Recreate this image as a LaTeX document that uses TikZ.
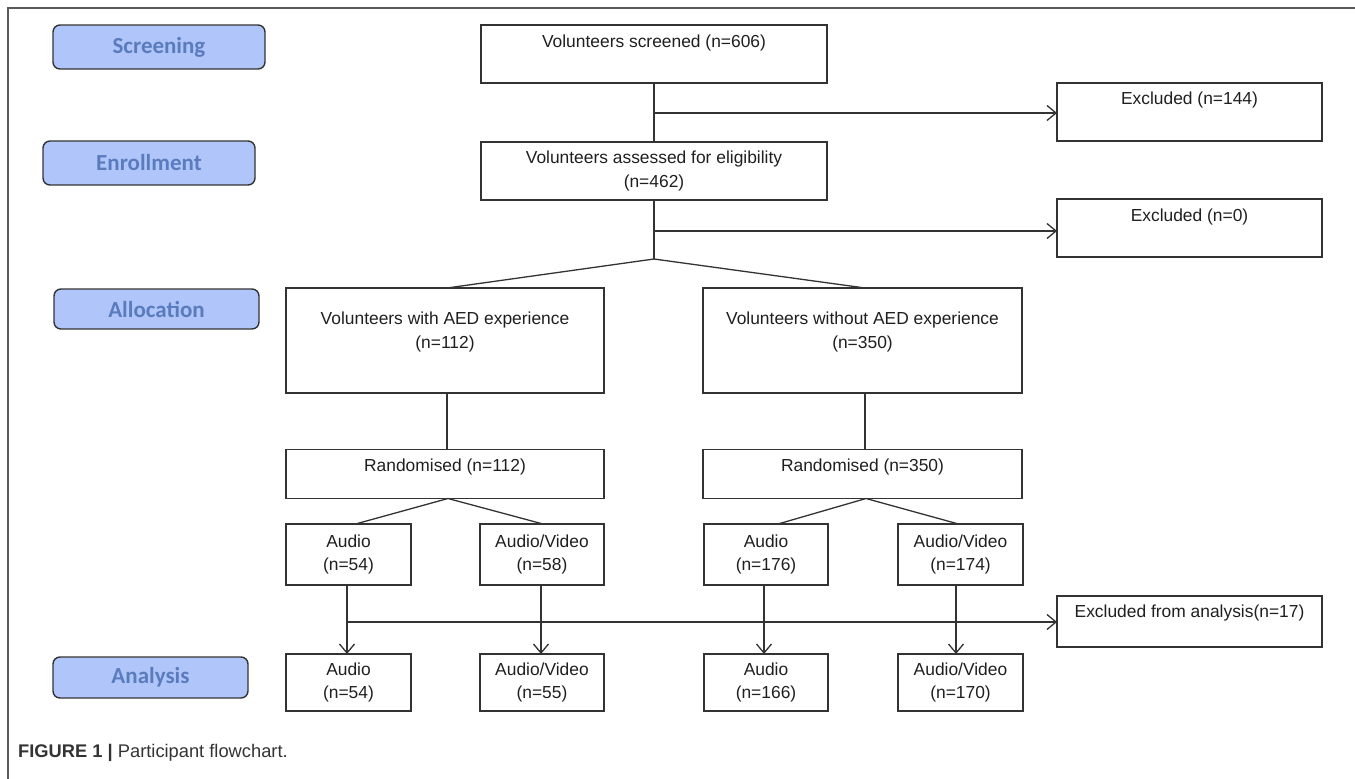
\documentclass[tikz,border=0pt]{standalone}
\usepackage{fontspec}
\setmainfont{Liberation Sans}
\newfontfamily\labfont{Carlito}
\usetikzlibrary{arrows.meta,calc}
\definecolor{lblfill}{RGB}{176,198,250}
\definecolor{lbltext}{RGB}{90,124,190}
\definecolor{ink}{RGB}{51,51,51}
\definecolor{frame}{RGB}{90,90,90}
\begin{document}
\begin{tikzpicture}[x=1pt,y=-1pt,
  box/.style={draw=ink,line width=1.5pt,inner sep=0pt,outer sep=0pt},
  txt/.style={font=\fontsize{17.4}{23.5}\selectfont,text=black!88,align=center,inner sep=0pt},
  stage/.style={draw=ink,line width=1.4pt,fill=lblfill,rounded corners=7pt,inner sep=0pt,
    font=\labfont\bfseries\fontsize{23}{26}\selectfont,text=lbltext},
  conn/.style={draw=ink,line width=1.3pt},
  arr/.style={conn,-{Straight Barb[length=9pt,width=15pt]}}]
\useasboundingbox (0,0) rectangle (1355,779);
\draw[frame,line width=1.5pt] (8,779) -- (8,8) -- (1355,8);

% stage labels
\node[stage,minimum width=212pt,minimum height=44pt] (sScr) at (159,47) {Screening};
\node[stage,minimum width=212pt,minimum height=44pt] (sEnr) at (149,163) {Enrollment};
\node[stage,minimum width=205pt,minimum height=40pt] (sAll) at (156.5,309) {Allocation};
\node[stage,minimum width=195pt,minimum height=41pt] (sAna) at (150.5,677.5) {Analysis};

% boxes
\node[box,minimum width=346pt,minimum height=58pt] (scr) at (654,54) {};
\node[txt] (scrT) at (654,43) {Volunteers screened (n=606)};
\node[box,minimum width=265pt,minimum height=58pt] (ex1) at (1189.5,112) {};
\node[txt] (ex1T) at (1189.5,100) {Excluded (n=144)};
\node[box,minimum width=346pt,minimum height=58pt] (elig) at (654,171) {};
\node[txt] (eligT) at (654,171) {Volunteers assessed for eligibility\\(n=462)};
\node[box,minimum width=265pt,minimum height=58pt] (ex2) at (1189.5,228) {};
\node[txt] (ex2T) at (1189.5,217) {Excluded (n=0)};

\node[box,minimum width=318pt,minimum height=105pt] (aed) at (445,340.5) {};
\node[txt] (aedT) at (445,332) {Volunteers with AED experience\\(n=112)};
\node[box,minimum width=319pt,minimum height=105pt] (noaed) at (862.5,340.5) {};
\node[txt] (noaedT) at (862.5,332) {Volunteers without AED experience\\(n=350)};

\node[box,minimum width=318pt,minimum height=49pt] (r1) at (445,474) {};
\node[txt] (r1T) at (445,467) {Randomised (n=112)};
\node[box,minimum width=319pt,minimum height=49pt] (r2) at (862.5,474) {};
\node[txt] (r2T) at (862.5,467) {Randomised (n=350)};

\node[box,minimum width=125pt,minimum height=61pt] (a1) at (348.5,554.5) {};
\node[txt] (a1T) at (348.5,554.5) {Audio\\(n=54)};
\node[box,minimum width=124pt,minimum height=61pt] (v1) at (542,554.5) {};
\node[txt] (v1T) at (542,554.5) {Audio/Video\\(n=58)};
\node[box,minimum width=124pt,minimum height=61pt] (a2) at (766,554.5) {};
\node[txt] (a2T) at (766,554.5) {Audio\\(n=176)};
\node[box,minimum width=125pt,minimum height=61pt] (v2) at (960.5,554.5) {};
\node[txt] (v2T) at (960.5,554.5) {Audio/Video\\(n=174)};

\node[box,minimum width=265pt,minimum height=51pt] (exa) at (1189.5,621.5) {};
\node[txt] (exaT) at (1189.5,613) {Excluded from analysis(n=17)};

\node[box,minimum width=125pt,minimum height=57pt] (b1) at (348.5,682.5) {};
\node[txt] (b1T) at (348.5,682.5) {Audio\\(n=54)};
\node[box,minimum width=124pt,minimum height=57pt] (b2) at (542,682.5) {};
\node[txt] (b2T) at (542,682.5) {Audio/Video\\(n=55)};
\node[box,minimum width=124pt,minimum height=57pt] (b3) at (766,682.5) {};
\node[txt] (b3T) at (766,682.5) {Audio\\(n=166)};
\node[box,minimum width=125pt,minimum height=57pt] (b4) at (960.5,682.5) {};
\node[txt] (b4T) at (960.5,682.5) {Audio/Video\\(n=170)};

% connectors
\coordinate (br1) at (654,113);
\coordinate (br2) at (654,231);
\coordinate (split) at (654,259);
\coordinate (br3) at (347,622);
\draw[conn] (scr.south) -- (elig.north);
\draw[arr] (br1) -- (br1 -| ex1.west);
\draw[conn] (elig.south) -- (split);
\draw[arr] (br2) -- (br2 -| ex2.west);
\draw[conn] ([xshift=2pt]aed.north) -- (split) -- ([xshift=2.5pt]noaed.north);
\draw[conn] ([xshift=2pt]aed.south) -- ([xshift=2pt]r1.north);
\draw[conn] ([xshift=2.5pt]noaed.south) -- ([xshift=2.5pt]r2.north);
\draw[conn] ([xshift=7pt]a1.north) -- ([xshift=3pt]r1.south) -- ([xshift=1pt]v1.north);
\draw[conn] ([xshift=12pt]a2.north) -- ([xshift=3.5pt]r2.south) -- ([xshift=-2pt]v2.north);
\draw[arr] ([xshift=-1.5pt]a1.south) -- ([xshift=-1.5pt]b1.north);
\draw[arr] ([xshift=-1pt]v1.south) -- ([xshift=-1pt]b2.north);
\draw[arr] ([xshift=-2pt]a2.south) -- ([xshift=-2pt]b3.north);
\draw[arr] ([xshift=-4.5pt]v2.south) -- ([xshift=-4.5pt]b4.north);
\draw[arr] (br3) -- (br3 -| exa.west);

\node[anchor=west,inner sep=0pt,font=\fontsize{18.3}{20}\selectfont,text=ink] (cap) at (18,752.5) {\textbf{FIGURE 1 |} Participant flowchart.};
\end{tikzpicture}
\end{document}
